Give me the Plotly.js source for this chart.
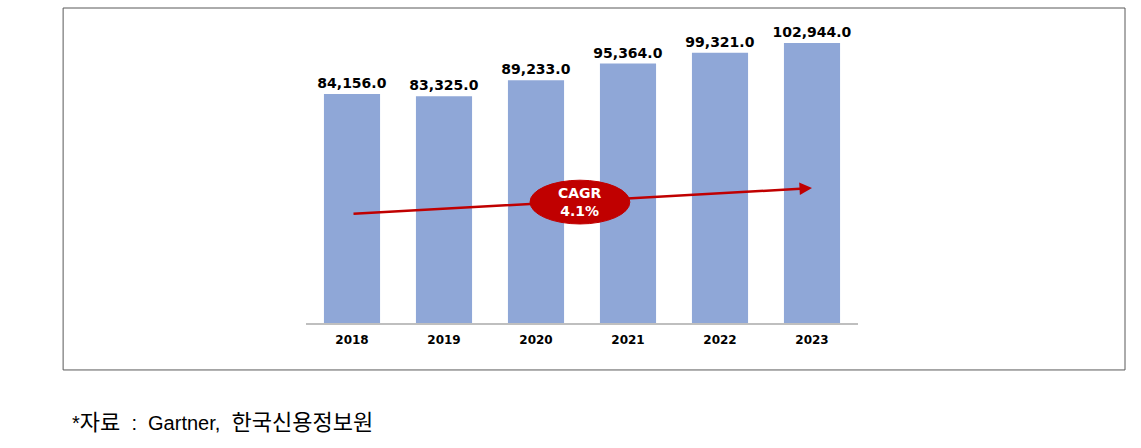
<!DOCTYPE html>
<html>
<head>
<meta charset="utf-8">
<script src="https://cdn.plot.ly/plotly-3.0.1.min.js"></script>
<style>
  body { margin: 0; background: #fff; }
  #chart { width: 1141px; height: 448px; }
</style>
</head>
<body>
<div id="chart"></div>
<script>
// Market size by year
const years = ['2018', '2019', '2020', '2021', '2022', '2023'];
const values = [84156.0, 83325.0, 89233.0, 95364.0, 99321.0, 102944.0];
const valueLabels = values.map(v => v.toLocaleString('en-US', { minimumFractionDigits: 1, maximumFractionDigits: 1 }));

const cagrText = 'CAGR<br>4.1%';
const kr = s => '<span style="font-family:Noto Sans CJK KR;font-size:22px">' + s + '</span>';
const sourceText = '*' + kr('자료') + '\u00a0\u00a0:\u00a0\u00a0Gartner,\u00a0\u00a0' + kr('한국신용정보원');

const data = [{
    x: years,
    y: values,
    type: 'bar',
    text: valueLabels,
    textposition: 'outside',
    constraintext: 'none',
    cliponaxis: false,
    textfont: { family: 'DejaVu Sans', size: 14, color: '#000', weight: 'bold' },
    marker: { color: '#8fa7d7' },
    hoverinfo: 'skip'
}];

const layout = {
    width: 1141,
    height: 448,
    margin: { l: 306, r: 283, t: 20, b: 125 },
    paper_bgcolor: '#fff',
    plot_bgcolor: '#fff',
    showlegend: false,
    bargap: 0.39,
    xaxis: {
        type: 'category',
        showline: true,
        linecolor: '#bfbfbf',
        linewidth: 1.5,
        ticks: '',
        ticklabelstandoff: 5,
        tickfont: { family: 'DejaVu Sans', size: 12, color: '#000', weight: 'bold' },
        fixedrange: true
    },
    yaxis: {
        range: [0, 111400],
        visible: false,
        showgrid: false,
        zeroline: false,
        fixedrange: true
    },
    shapes: [
        // outer frame
        { type: 'rect', xref: 'paper', yref: 'paper', x0: -0.440, x1: 1.4837, y0: -0.155, y1: 1.0396,
          line: { color: '#595959', width: 1 }, fillcolor: 'rgba(0,0,0,0)' },
        // CAGR ellipse
        { type: 'circle', xref: 'x', yref: 'y', x0: 1.935, x1: 3.02, y0: 36400, y1: 52500,
          line: { color: '#c00000', width: 1 }, fillcolor: '#c00000', layer: 'above' }
    ],
    annotations: [
        // trend arrow
        { x: 5, y: 49600, xref: 'x', yref: 'y', ax: 0, ay: 40100, axref: 'x', ayref: 'y',
          text: '', showarrow: true, arrowhead: 2, arrowsize: 1, arrowwidth: 2.5, arrowcolor: '#c00000' },
        { x: 2.478, y: 44470, xref: 'x', yref: 'y', text: cagrText, showarrow: false,
          font: { family: 'DejaVu Sans', size: 14, color: '#fff', weight: 'bold' } },
        { x: -0.4275, y: -0.32, xref: 'paper', yref: 'paper', xanchor: 'left', yanchor: 'middle',
          text: sourceText, showarrow: false,
          font: { family: 'Liberation Sans', size: 20, color: '#000' } }
    ]
};

Plotly.newPlot('chart', data, layout, { displayModeBar: false, staticPlot: true });
</script>
</body>
</html>
